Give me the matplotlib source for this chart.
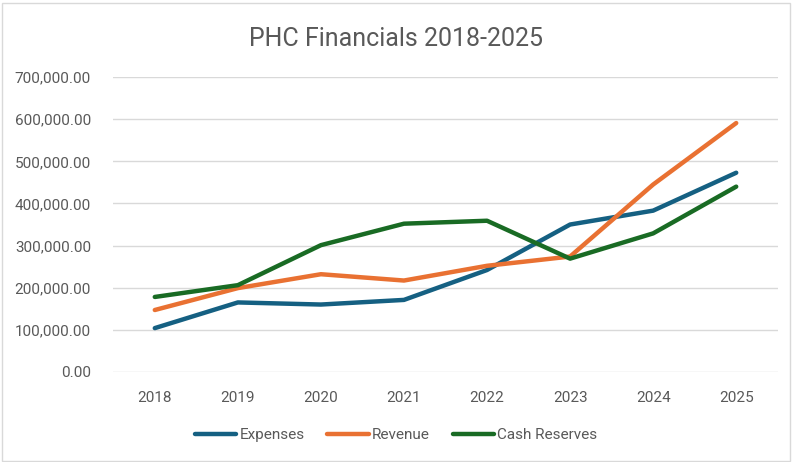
import matplotlib.pyplot as plt
from matplotlib.ticker import FuncFormatter
from matplotlib.patches import Rectangle

# Data
years = ["2018", "2019", "2020", "2021", "2022", "2023", "2024", "2025"]
expenses = [104000, 165000, 160000, 171000, 242000, 350000, 383000, 473000]
revenue = [147000, 199000, 232000, 217000, 252000, 274000, 445000, 591000]
cash_reserves = [178000, 206000, 301000, 352000, 359000, 269000, 329000, 440000]

plt.rcParams["font.family"] = ["Roboto", "DejaVu Sans"]
text_color = "#595959"

fig = plt.figure(figsize=(7.92, 4.62), dpi=100)
ax = fig.add_axes([0.143, 0.195, 0.839, 0.638])

x = range(len(years))
ax.plot(x, expenses, color="#156082", lw=3.2, label="Expenses", solid_capstyle="round")
ax.plot(x, revenue, color="#E97132", lw=3.2, label="Revenue", solid_capstyle="round")
ax.plot(x, cash_reserves, color="#196B24", lw=3.2, label="Cash Reserves", solid_capstyle="round")

ax.set_xlim(-0.5, len(years) - 0.5)
ax.set_ylim(0, 700000)
ax.set_yticks(range(0, 700001, 100000))
ax.yaxis.set_major_formatter(FuncFormatter(lambda v, p: f"{v:,.2f}"))
ax.set_xticks(list(x))
ax.set_xticklabels(years)
ax.tick_params(length=0, labelsize=11, colors=text_color, pad=14)
ax.tick_params(axis="y", pad=16)
ax.grid(axis="y", color="#D9D9D9", lw=1)
ax.set_axisbelow(True)
for s in ax.spines.values():
    s.set_visible(False)

fig.text(0.5, 0.915, "PHC Financials 2018-2025", ha="center", va="center",
         fontsize=18, color=text_color)

fig.legend(loc="center", bbox_to_anchor=(0.5, 0.058), ncol=3, frameon=False,
           fontsize=11, labelcolor=text_color, handlelength=2.7, handletextpad=0.2,
           columnspacing=1.5)

fig.patches.append(Rectangle((0.003, 0.003), 0.994, 0.99, transform=fig.transFigure,
                             fill=False, edgecolor="#D9D9D9", lw=1))

fig.savefig("out.png", dpi=100)
